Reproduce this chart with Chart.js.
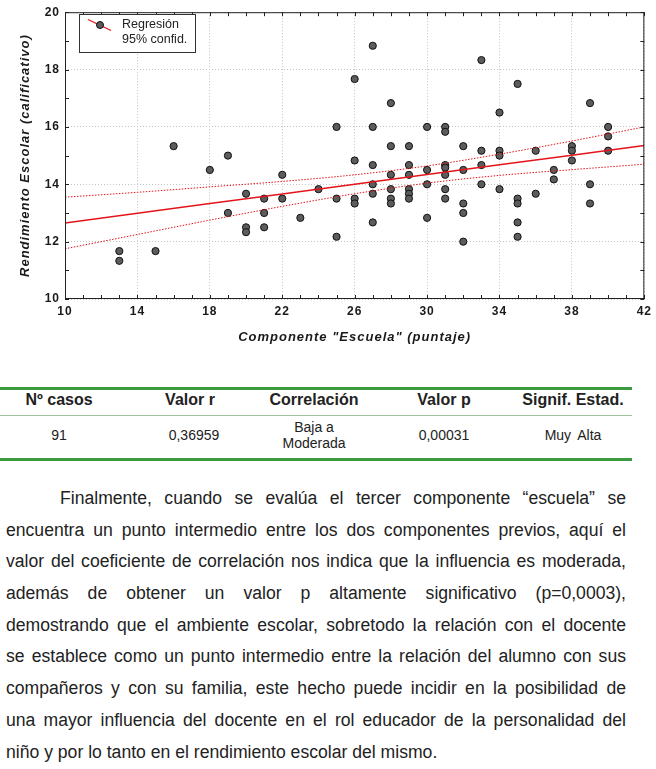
<!DOCTYPE html>
<html>
<head>
<meta charset="utf-8">
<script src="https://cdn.jsdelivr.net/npm/chart.js@4.4.1/dist/chart.umd.min.js"></script>
<style>
  html, body { margin: 0; padding: 0; background: #fff; }
  body { width: 656px; height: 769px; position: relative; overflow: hidden;
         font-family: "Liberation Sans", Arial, sans-serif; color: #222; }
  #wrap { position: absolute; left: 0; top: 0; width: 656px; height: 350px; }
  .rule { position: absolute; left: 0; width: 632px; }
  .cell { position: absolute; transform: translate(-50%, -50%); text-align: center; white-space: nowrap; }
  .hd { font-weight: bold; font-size: 16px; }
  .dt { font-size: 14px; line-height: 16px; }
  #para { position: absolute; left: 6px; top: 483px; width: 620px; font-size: 17.6px; }
  #para div { height: 31.7px; line-height: 31.7px; white-space: nowrap;
              text-align: justify; text-align-last: justify; }
  #para div.last { text-align: left; text-align-last: left; }
</style>
</head>
<body>
<div id="wrap"><canvas id="scatterChart"></canvas></div>

<div class="rule" style="top:387px;height:2.5px;background:#3a9a3f;"></div>
<div class="rule" style="top:415px;height:1px;background:#9cc39e;"></div>
<div class="rule" style="top:458px;height:2.5px;background:#3a9a3f;"></div>

<div class="cell hd" style="left:59px;top:400px;">Nº casos</div>
<div class="cell hd" style="left:190px;top:400px;">Valor r</div>
<div class="cell hd" style="left:314px;top:400px;">Correlación</div>
<div class="cell hd" style="left:444px;top:400px;">Valor p</div>
<div class="cell hd" style="left:573px;top:400px;">Signif. Estad.</div>

<div class="cell dt" style="left:59px;top:435px;">91</div>
<div class="cell dt" style="left:194px;top:435px;">0,36959</div>
<div class="cell dt" style="left:314px;top:435px;">Baja a<br>Moderada</div>
<div class="cell dt" style="left:444px;top:435px;">0,00031</div>
<div class="cell dt" style="left:573px;top:435px;word-spacing:3px;">Muy Alta</div>

<div id="para">
  <div style="padding-left:54px;">Finalmente, cuando se evalúa el tercer componente “escuela” se</div>
  <div>encuentra un punto intermedio entre los dos componentes previos, aquí el</div>
  <div>valor del coeficiente de correlación nos indica que la influencia es moderada,</div>
  <div>además de obtener un valor p altamente significativo (p=0,0003),</div>
  <div>demostrando que el ambiente escolar, sobretodo la relación con el docente</div>
  <div>se establece como un punto intermedio entre la relación del alumno con sus</div>
  <div>compañeros y con su familia, este hecho puede incidir en la posibilidad de</div>
  <div>una mayor influencia del docente en el rol educador de la personalidad del</div>
  <div class="last">niño y por lo tanto en el rendimiento escolar del mismo.</div>
</div>

<script>
// Componente "Escuela" (puntaje) vs Rendimiento Escolar (calificativo)
const escuela = [
  13, 13, 15, 16, 18, 19, 19, 20, 20, 20,
  21, 21, 21, 22, 22, 23, 24, 25, 25, 25,
  26, 26, 26, 26, 27, 27, 27, 27, 27, 27,
  28, 28, 28, 28, 28, 28, 29, 29, 29, 29, 29, 29,
  30, 30, 30, 30, 31, 31, 31, 31, 31, 31, 31,
  32, 32, 32, 32, 32, 33, 33, 33, 33, 34, 34, 34, 34,
  35, 35, 35, 35, 35, 36, 36, 37, 37, 38, 38, 38,
  39, 39, 39, 40, 40, 40
];
const rendimiento = [
  11.67, 11.33, 11.67, 15.33, 14.5, 15.0, 13.0, 13.67, 12.5, 12.33,
  13.5, 13.0, 12.5, 14.33, 13.5, 12.83, 13.83, 16.0, 13.5, 12.17,
  17.67, 14.83, 13.5, 13.33, 18.83, 16.0, 14.67, 14.0, 13.67, 12.67,
  16.83, 15.33, 14.33, 13.83, 13.5, 13.33, 15.33, 14.67, 14.33, 13.83, 13.67, 13.5,
  16.0, 14.5, 14.0, 12.83, 16.0, 15.83, 14.67, 14.58, 14.33, 13.83, 13.5,
  15.33, 14.5, 13.33, 13.0, 12.0, 18.33, 15.17, 14.67, 14.0, 16.5, 15.17, 15.0, 13.83,
  17.5, 13.5, 13.33, 12.67, 12.17, 15.17, 13.67, 14.5, 14.17, 15.33, 15.17, 14.83,
  16.83, 14.0, 13.33, 16.0, 15.67, 15.17
];

// regression line and 95% band
const bandX = [10, 14, 18, 22, 26, 30, 34, 38, 42];
const regY = [12.65, 12.99, 13.33, 13.66, 14.0, 14.34, 14.68, 15.01, 15.35];
const upperY = [13.55, 13.72, 13.91, 14.10, 14.33, 14.64, 15.05, 15.51, 16.0];
const lowerY = [11.75, 12.25, 12.75, 13.23, 13.67, 14.04, 14.31, 14.51, 14.70];

const xTicks = [10, 14, 18, 22, 26, 30, 34, 38, 42];
const yTicks = [10, 12, 14, 16, 18, 20];
const legendLabels = ['Regresión', '95% confid.'];

const FONT = "'Liberation Sans', Arial, sans-serif";
const RED = '#e3141b';

const toXY = (xs, ys) => xs.map((x, i) => ({ x: x, y: ys[i] }));

// frame, inward minor ticks and the boxed legend
const framePlugin = {
  id: 'frame',
  beforeDraw(chart) {
    chart.ctx.letterSpacing = '1px';
  },
  afterDraw(chart) {
    const { ctx, chartArea: a, scales } = chart;
    ctx.save();
    ctx.letterSpacing = '0px';
    ctx.strokeStyle = '#222';
    ctx.lineWidth = 1;
    ctx.strokeRect(a.left + 0.5, a.top + 0.5, a.right - a.left - 1, a.bottom - a.top - 1);

    ctx.beginPath();
    for (let v = 10; v <= 42; v++) {
      const px = Math.round(scales.x.getPixelForValue(v)) + 0.5;
      ctx.moveTo(px, a.bottom); ctx.lineTo(px, a.bottom - 4);
      ctx.moveTo(px, a.top); ctx.lineTo(px, a.top + 4);
    }
    for (let v = 10; v <= 20; v++) {
      const py = Math.round(scales.y.getPixelForValue(v)) + 0.5;
      ctx.moveTo(a.left, py); ctx.lineTo(a.left + 4, py);
      ctx.moveTo(a.right, py); ctx.lineTo(a.right - 4, py);
    }
    ctx.stroke();

    // legend
    ctx.fillStyle = '#fff';
    ctx.fillRect(79.5, 14.5, 116, 38);
    ctx.strokeStyle = '#333';
    ctx.strokeRect(79.5, 14.5, 116, 38);
    ctx.strokeStyle = RED;
    ctx.lineWidth = 1.3;
    ctx.beginPath();
    ctx.moveTo(88, 19.5); ctx.lineTo(111, 30.5);
    ctx.stroke();
    ctx.beginPath();
    ctx.arc(100, 25, 3.5, 0, Math.PI * 2);
    ctx.fillStyle = '#5a5a5a';
    ctx.fill();
    ctx.strokeStyle = '#111';
    ctx.lineWidth = 1;
    ctx.stroke();
    ctx.fillStyle = '#222';
    ctx.font = '12.5px ' + FONT;
    ctx.textBaseline = 'middle';
    ctx.fillText(legendLabels[0], 122, 25);
    ctx.fillText(legendLabels[1], 122, 40);
    ctx.restore();
  }
};

const ctx = document.getElementById('scatterChart');
new Chart(ctx, {
  type: 'scatter',
  data: {
    datasets: [
      {
        label: 'Datos',
        data: toXY(escuela, rendimiento),
        pointRadius: 3.6,
        pointBackgroundColor: '#5c5c5c',
        pointBorderColor: '#111',
        pointBorderWidth: 1,
        order: 2
      },
      {
        label: 'Regresión',
        data: toXY(bandX, regY),
        showLine: true,
        borderColor: RED,
        borderWidth: 1.4,
        pointRadius: 0,
        order: 0
      },
      {
        label: '95% confid. sup',
        data: toXY(bandX, upperY),
        showLine: true,
        borderColor: RED,
        borderWidth: 1,
        borderDash: [1.5, 1.5],
        cubicInterpolationMode: 'monotone',
        pointRadius: 0,
        order: 1
      },
      {
        label: '95% confid. inf',
        data: toXY(bandX, lowerY),
        showLine: true,
        borderColor: RED,
        borderWidth: 1,
        borderDash: [1.5, 1.5],
        cubicInterpolationMode: 'monotone',
        pointRadius: 0,
        order: 1
      }
    ]
  },
  options: {
    responsive: true,
    maintainAspectRatio: false,
    animation: false,
    layout: { padding: { top: 10, right: 11, left: 0, bottom: 0 } },
    plugins: {
      legend: { display: false },
      tooltip: { enabled: false }
    },
    scales: {
      x: {
        type: 'linear',
        min: 10,
        max: 42,
        afterFit: s => { s.height = 51; },
        afterBuildTicks: s => { s.ticks = xTicks.map(v => ({ value: v })); },
        grid: { color: '#c4c4c4', lineWidth: 1, drawTicks: false },
        border: { display: false, dash: [1, 2] },
        ticks: {
          color: '#1a1a1a',
          padding: 5,
          maxRotation: 0,
          autoSkip: false,
          font: { family: FONT, size: 12, weight: 'bold' }
        },
        title: {
          display: true,
          text: 'Componente "Escuela" (puntaje)',
          color: '#1a1a1a',
          padding: { bottom: 5 },
          font: { family: FONT, size: 13, weight: 'bold', style: 'italic' }
        }
      },
      y: {
        type: 'linear',
        min: 10,
        max: 20,
        afterFit: s => { s.width = 65; },
        afterBuildTicks: s => { s.ticks = yTicks.map(v => ({ value: v })); },
        grid: { color: '#c4c4c4', lineWidth: 1, drawTicks: false },
        border: { display: false, dash: [1, 2] },
        ticks: {
          color: '#1a1a1a',
          padding: 5,
          font: { family: FONT, size: 12, weight: 'bold' }
        },
        title: {
          display: true,
          text: 'Rendimiento Escolar (calificativo)',
          color: '#1a1a1a',
          padding: { top: 18 },
          font: { family: FONT, size: 13, weight: 'bold', style: 'italic' }
        }
      }
    }
  },
  plugins: [framePlugin]
});
</script>
</body>
</html>
